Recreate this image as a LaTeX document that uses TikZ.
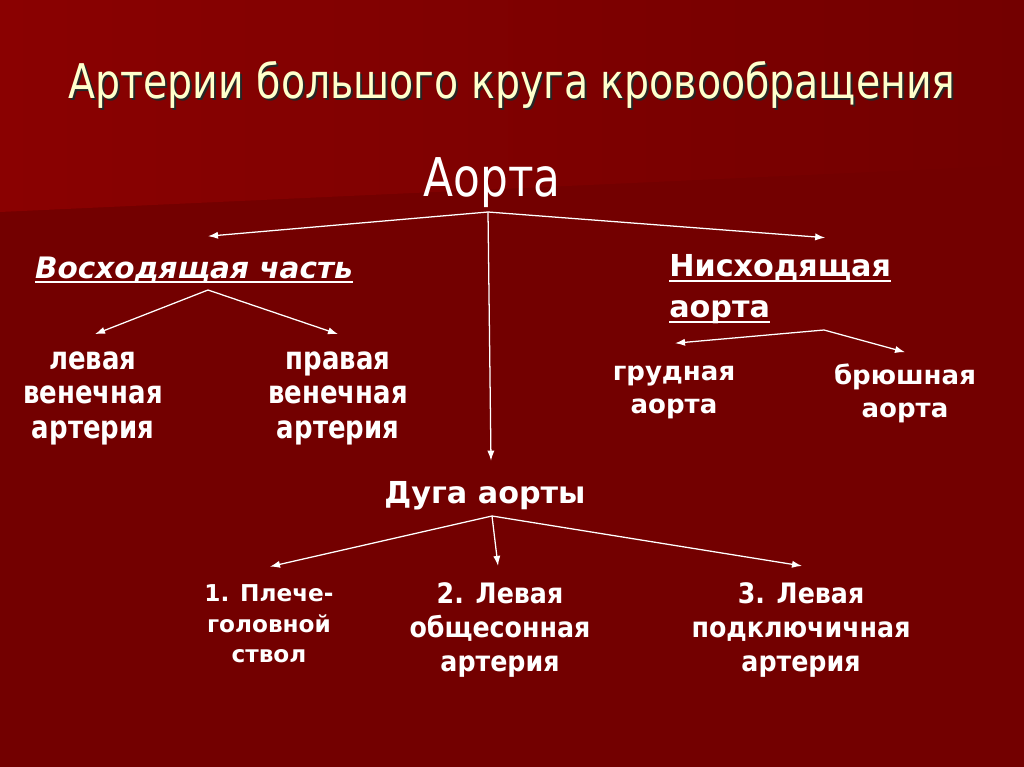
\documentclass[tikz,border=0pt]{standalone}
\usepackage{fontspec}
\setmainfont{DejaVu Sans}
\newfontfamily\titlefont[FakeStretch=0.825]{DejaVu Sans}
\newfontfamily\narrowfont[FakeStretch=0.82]{DejaVu Sans}
\newfontfamily\midfont[FakeStretch=0.9]{DejaVu Sans}
\usetikzlibrary{arrows.meta,positioning}
\definecolor{bgdark}{RGB}{115,0,0}
\definecolor{bgtop}{RGB}{138,1,1}
\definecolor{titlecol}{RGB}{255,255,204}

\begin{document}
\begin{tikzpicture}[x=0.025cm,y=-0.025cm]
\tikzstyle{branch} = [
	text=white,
	inner sep=0pt,
	align=center,
	font=\midfont\bfseries\fontsize{20}{24.5}\selectfont
];
\tikzstyle{heading} = [
	text=white,
	inner sep=0pt,
	font=\bfseries\fontsize{21.5}{26}\selectfont
];
\tikzstyle{link} = [
	-{Latex[length=2.5mm,width=1.8mm]},
	line width=0.9pt,
	color=white
];

%background
\useasboundingbox (0,0) rectangle (1024,767);
\fill[bgdark] (0,0) rectangle (1024,767);
\shade[left color=bgtop, right color=bgdark] (0,0) -- (1024,0) -- (1024,165) -- (0,212) -- cycle;

%title
\node[anchor=base, text=black!85, font=\titlefont\fontsize{34}{40}\selectfont] (titleshadow) at (514,101) {Артерии большого круга кровообращения};
\node[anchor=base, text=titlecol, font=\titlefont\fontsize{34}{40}\selectfont] (title) at (512,99) {Артерии большого круга кровообращения};

\node[anchor=base, text=white, inner sep=0pt, font=\narrowfont\fontsize{38}{40}\selectfont] (aorta) at (492,197) {Аорта};

%ascending part
\node[heading, anchor=base, font=\bfseries\itshape\fontsize{21}{26}\selectfont] (asc) at (194,278) {Восходящая часть};
\node[branch, font=\narrowfont\bfseries\fontsize{22.5}{24.5}\selectfont] (lcor) at (93,398) {левая\\венечная\\артерия};
\node[branch, font=\narrowfont\bfseries\fontsize{22.5}{24.5}\selectfont] (rcor) at (338,398) {правая\\венечная\\артерия};

%descending aorta
\node[heading, anchor=base west] (desc1) at (669,277) {Нисходящая};
\node[heading, anchor=base west] (desc2) at (669,317) {аорта};
\node[branch, font=\bfseries\fontsize{18.5}{23.5}\selectfont] (thor) at (674,392) {грудная\\аорта};
\node[branch, font=\bfseries\fontsize{18.5}{23.5}\selectfont] (abd) at (905,393) {брюшная\\аорта};

%arch
\node[heading, anchor=base] (arch) at (485,503) {Дуга аорты};
\node[branch, font=\bfseries\fontsize{16.5}{21.7}\selectfont] (bct) at (269,624) {1. Плече-\\головной\\ствол};
\node[branch] (lcca) at (500,630) {2. Левая\\общесонная\\артерия};
\node[branch] (lsa) at (801,630) {3. Левая\\подключичная\\артерия};

%underlines
\draw[white, line width=2pt] ([yshift=-4*0.025cm]asc.base west) -- ([yshift=-4*0.025cm]asc.base east);
\draw[white, line width=2pt] ([yshift=-4*0.025cm]desc1.base west) -- ([yshift=-4*0.025cm]desc1.base east);
\draw[white, line width=2pt] ([yshift=-5*0.025cm]desc2.base west) -- ([yshift=-5*0.025cm]desc2.base east);

\coordinate (aortafork) at (488,212);
\coordinate (ascfork) at (208,290);
\coordinate (descfork) at (824,330);
\coordinate (archfork) at (492,516);

%from the aorta
\draw[link] (aortafork) -- ([shift={(14,-20)}]asc.north);
\draw[link] (aortafork) -- ([shift={(45,-17)}]desc1.north);
\draw[link] (aortafork) -- ([shift={(6,-20)}]arch.north);

%coronary arteries
\draw[link] (ascfork) -- ([shift={(2,-17)}]lcor.north);
\draw[link] (ascfork) -- ([shift={(0,-17)}]rcor.north);

%thoracic and abdominal
\draw[link] (descfork) -- ([shift={(1,-22)}]thor.north);
\draw[link] (descfork) -- ([shift={(0,-11)}]abd.north);

%branches of the arch
\draw[link] (archfork) -- ([shift={(1,-18)}]bct.north);
\draw[link] (archfork) -- ([shift={(-2,-16)}]lcca.north);
\draw[link] (archfork) -- ([shift={(1,-16)}]lsa.north);
\end{tikzpicture}
\end{document}
